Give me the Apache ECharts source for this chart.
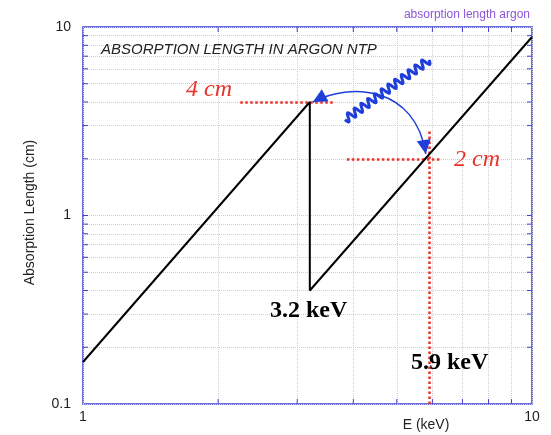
<!DOCTYPE html>
<html><head><meta charset="utf-8">
<script src="https://cdn.jsdelivr.net/npm/echarts@6/dist/echarts.min.js"></script>
<style>html,body{margin:0;padding:0;background:#fff}#c{width:551px;height:435px}</style>
</head><body><div id="c"></div>
<script>
// ---- data ----
const energyKeV = [1, 3.2, 3.2, 10];
const absLengthCm = [0.167, 4.0, 0.40, 8.85];
const xMinorGrid = [2, 3, 4, 5, 6, 7, 8, 9];
const yMinorGrid = [0.2, 0.3, 0.4, 0.5, 0.6, 0.7, 0.8, 0.9, 2, 3, 4, 5, 6, 7, 8, 9];
const yTickLabels = ['0.1', '1', '10'];
const xTickLabels = ['1', '10'];
// annotation anchors (data coords)
const edgeE = 3.2, edgeLen = 4.0;     // 4 cm at 3.2 keV
const feE = 5.9, feLen = 2.0;         // 2 cm at 5.9 keV
const line4cm = [[2.24, 4.0], [3.64, 4.0]];
const line2cm = [[3.87, 2.0], [6.3, 2.0]];
const vline59 = [[5.9, 0.1], [5.9, 2.85]];
const photonStart = [3.83, 3.22], photonEnd = [5.9, 6.69];

const chart = echarts.init(document.getElementById('c'));
const pts = energyKeV.map((e, i) => [e, absLengthCm[i]]);
const gridLine = {type: 'dotted', color: '#cfcfcf', width: 1};
const redDot = {type: 'dotted', color: '#e8322a', width: 2.5};
const axisBlue = '#3f3fd0';

chart.setOption({
  animation: false,
  grid: {left: 83, right: 19, top: 27, bottom: 31, show: true, borderColor: axisBlue, borderWidth: 1.5,
    backgroundColor: 'transparent', containLabel: false, outerBoundsMode: 'none'},
  xAxis: {
    type: 'log', logBase: 10, min: 1, max: 10,
    axisLine: {show: false}, axisTick: {show: false},
    splitLine: {show: true, lineStyle: gridLine},
    axisLabel: {fontFamily: 'Liberation Sans', fontSize: 14, color: '#222', margin: 6,
      formatter: v => xTickLabels.find(t => Math.abs(+t - v) < 1e-6) || ''}
  },
  yAxis: {
    type: 'log', logBase: 10, min: 0.1, max: 10,
    name: 'Absorption Length (cm)', nameLocation: 'middle', nameGap: 46,
    nameTextStyle: {fontFamily: 'Liberation Sans', fontSize: 14, color: '#222', padding: [0, 0, 0, 6]},
    axisLine: {show: false}, axisTick: {show: false},
    splitLine: {show: true, lineStyle: gridLine},
    axisLabel: {fontFamily: 'Liberation Sans', fontSize: 14, color: '#222', margin: 12,
      formatter: v => yTickLabels.find(t => Math.abs(+t - v) < 1e-6) || ''}
  },
  series: [
    {
      type: 'line', data: [], silent: true,
      markLine: {
        silent: true, symbol: 'none', label: {show: false},
        lineStyle: gridLine,
        data: xMinorGrid.map(v => ({xAxis: v})).concat(yMinorGrid.map(v => ({yAxis: v})))
      }
    },
    {
      type: 'line', data: pts, showSymbol: false, symbol: 'none', z: 5,
      lineStyle: {color: '#000', width: 2}
    },
    {
      type: 'line', data: [], silent: true, z: 4,
      markLine: {
        silent: true, symbol: 'none', label: {show: false}, lineStyle: redDot,
        data: [
          [{coord: line4cm[0]}, {coord: line4cm[1]}],
          [{coord: line2cm[0]}, {coord: line2cm[1]}],
          [{coord: vline59[0]}, {coord: vline59[1]}]
        ]
      }
    }
  ]
});

// ---- decorations placed through the chart's scales ----
const px = p => chart.convertToPixel({gridIndex: 0}, p);
const blue = '#1f3fd8';
const A = px([3.25, edgeLen]);
const B = px([5.8, 2.12]);
const C1 = [A[0] + 37, A[1] - 20];
const C2 = [B[0] - 10, B[1] - 68];
function arrowHead(tip, from, len, half) {
  const dx = tip[0] - from[0], dy = tip[1] - from[1];
  const d = Math.hypot(dx, dy), ux = dx / d, uy = dy / d;
  const bx = tip[0] - ux * len, by = tip[1] - uy * len;
  return [tip, [bx - uy * half, by + ux * half], [bx + uy * half, by - ux * half]];
}
// wavy photon
const ws = px(photonStart), we = px(photonEnd);
const wpts = [];
const wl = Math.hypot(we[0] - ws[0], we[1] - ws[1]);
const ux = (we[0] - ws[0]) / wl, uy = (we[1] - ws[1]) / wl;
const waves = 12.5, amp = 4;
for (let i = 0; i <= 300; i++) {
  const t = i / 300, s = t * wl, o = amp * Math.sin(t * waves * 2 * Math.PI);
  wpts.push([ws[0] + ux * s - uy * o, ws[1] + uy * s + ux * o]);
}
const ft = (txt, x, y, st) => ({type: 'text', x, y, silent: true, z: 50, style: Object.assign({text: txt}, st)});

// inner minor ticks on the frame
const lo = px([1, 0.1]), hi = px([10, 10]);
const tickEls = [];
const tk = (x1, y1, x2, y2) => tickEls.push({type: 'line', silent: true, z: 30,
  shape: {x1, y1, x2, y2}, style: {stroke: axisBlue, lineWidth: 1}});
xMinorGrid.forEach(v => { const x = px([v, 1])[0]; tk(x, lo[1], x, lo[1] - 5); tk(x, hi[1], x, hi[1] + 5); });
yMinorGrid.concat([1]).forEach(v => { const y = px([1, v])[1]; tk(lo[0], y, lo[0] + 5, y); tk(hi[0], y, hi[0] - 5, y); });

chart.setOption({
  graphic: tickEls.concat([
    {type: 'bezierCurve', silent: true, z: 40,
      shape: {x1: A[0], y1: A[1], cpx1: C1[0], cpy1: C1[1], cpx2: C2[0], cpy2: C2[1], x2: B[0], y2: B[1]},
      style: {stroke: blue, lineWidth: 1.5, fill: null}},
    {type: 'polygon', silent: true, z: 41, shape: {points: arrowHead(A, C1, 14, 7)}, style: {fill: blue}},
    {type: 'polygon', silent: true, z: 41, shape: {points: arrowHead(B, C2, 14, 7)}, style: {fill: blue}},
    {type: 'polyline', silent: true, z: 40, shape: {points: wpts}, style: {stroke: blue, lineWidth: 3, fill: null}},
    ft('E (keV)', 426, 425, {font: '14px "Liberation Sans"', fill: '#222', textAlign: 'center', textVerticalAlign: 'middle'}),
    ft('absorption length argon', 530, 15, {font: '12px "Liberation Sans"', fill: '#8a55d8', textAlign: 'right', textVerticalAlign: 'middle'}),
    ft('ABSORPTION LENGTH IN ARGON NTP', 101, 50, {font: 'italic 15px "Liberation Sans"', fill: '#222', textVerticalAlign: 'middle'}),
    ft('4 cm', 186, 90, {font: 'italic 24px "Liberation Serif"', fill: '#e8322a', textVerticalAlign: 'middle'}),
    ft('2 cm', 454, 160, {font: 'italic 24px "Liberation Serif"', fill: '#e8322a', textVerticalAlign: 'middle'}),
    ft('3.2 keV', 270, 311, {font: 'bold 24px "Liberation Serif"', fill: '#000', textVerticalAlign: 'middle'}),
    ft('5.9 keV', 411, 363, {font: 'bold 24px "Liberation Serif"', fill: '#000', textVerticalAlign: 'middle'})
  ])
});
</script></body></html>
